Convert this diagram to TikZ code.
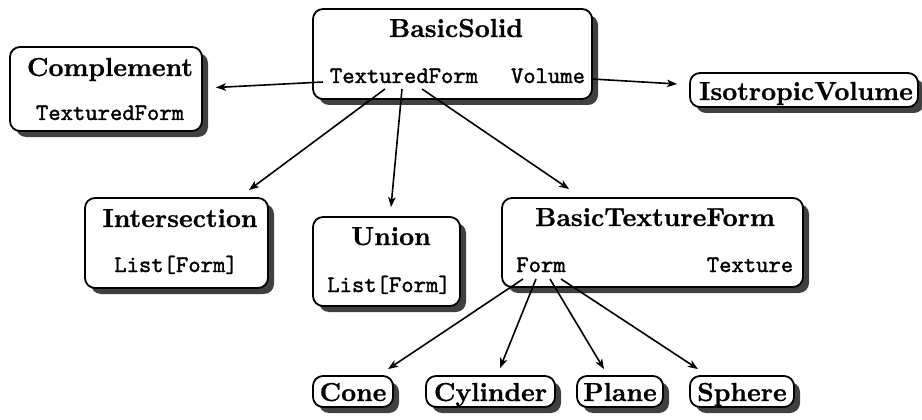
\documentclass[tikz,border=0pt]{standalone}
\usepackage{fontspec}
\newfontface\ttlfont{lmroman10-bold}[Extension=.otf, FakeBold=0.8]
\newfontface\fldfont{lmmono10-regular}[Extension=.otf, FakeBold=1.5]
\usetikzlibrary{shadows,arrows.meta}
\begin{document}
\begin{tikzpicture}[x=1pt,y=-1pt,
  cbox/.style={draw=black, line width=1.8pt, rounded corners=10pt, fill=white, inner sep=0pt,
    drop shadow={shadow xshift=6pt, shadow yshift=-6pt, opacity=1, fill=black!75}},
  ttl/.style={anchor=base, inner sep=0pt, font=\fontsize{26}{30}\ttlfont},
  fld/.style={anchor=base, inner sep=0pt, font=\fontsize{23.5}{28}\fldfont},
  arr/.style={-{Stealth[length=10pt,width=7.5pt,inset=2.5pt]}, line width=1.6pt}]
\useasboundingbox (0,0) rectangle (922,420);

% boxes
\node[cbox, minimum width=279pt, minimum height=90pt] (bs) at (452.5,54) {};
\node[cbox, minimum width=192pt, minimum height=84pt] (comp) at (106,89) {};
\node[cbox, minimum width=228pt, minimum height=34pt] (iso) at (804,90) {};
\node[cbox, minimum width=183pt, minimum height=90pt] (inter) at (176.5,243) {};
\node[cbox, minimum width=147pt, minimum height=89pt] (union) at (386.5,261.5) {};
\node[cbox, minimum width=301pt, minimum height=89pt] (btf) at (652.5,242.5) {};
\node[cbox, minimum width=80pt, minimum height=31pt] (cone) at (353,391.5) {};
\node[cbox, minimum width=129pt, minimum height=31pt] (cyl) at (490.5,391.5) {};
\node[cbox, minimum width=86pt, minimum height=31pt] (plane) at (620,391.5) {};
\node[cbox, minimum width=104pt, minimum height=31pt] (sphere) at (742,391.5) {};

% texts
\node[ttl] (bsT) at (456,37) {BasicSolid};
\node[fld] (bsTF) at (404,83) {TexturedForm};
\node[fld] (bsV) at (548,83) {Volume};
\node[ttl] (compT) at (110,76) {Complement};
\node[fld] (compF) at (110,120) {TexturedForm};
\node[ttl] (isoT) at (806,100) {IsotropicVolume};
\node[ttl] (interT) at (180,227) {Intersection};
\node[fld] (interF) at (176,272) {List[Form]};
\node[ttl] (unionT) at (391,245) {Union};
\node[fld] (unionF) at (389,292) {List[Form]};
\node[ttl] (btfT) at (655,226) {BasicTextureForm};
\node[fld] (btfF) at (541,272) {Form};
\node[fld] (btfX) at (750,272) {Texture};
\node[ttl] (coneT) at (353,401) {Cone};
\node[ttl] (cylT) at (490.5,401) {Cylinder};
\node[ttl] (planeT) at (620,401) {Plane};
\node[ttl] (sphereT) at (742,401) {Sphere};

% connectors
\draw[arr] ([shift={(-81,-1)}]bsTF.base) -- ([shift={(13,-1.5)}]comp.east);
\draw[arr] ([shift={(44,-4)}]bsV.base) -- ([shift={(-12,-6)}]iso.west);
\draw[arr] ([shift={(-19,6)}]bsTF.base) -- ([shift={(-20,-7)}]inter.north east);
\draw[arr] ([shift={(-2,6)}]bsTF.base) -- ([shift={(4.5,-9)}]union.north);
\draw[arr] ([shift={(18,6)}]bsTF.base) -- ([shift={(68,-8)}]btf.north west);
\draw[arr] ([shift={(-18,7)}]btfF.base) -- ([shift={(35,-6)}]cone.north);
\draw[arr] ([shift={(-5,7)}]btfF.base) -- ([shift={(9.5,-7)}]cyl.north);
\draw[arr] ([shift={(9,7)}]btfF.base) -- ([shift={(-16,-6)}]plane.north);
\draw[arr] ([shift={(20,7)}]btfF.base) -- ([shift={(-44,-6)}]sphere.north);
\end{tikzpicture}
\end{document}
